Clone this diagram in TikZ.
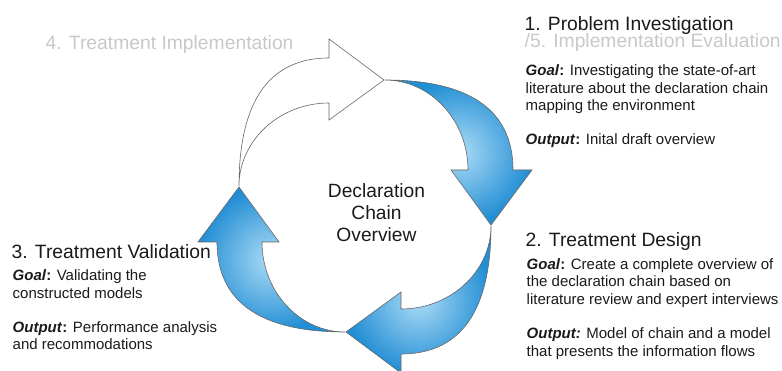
\documentclass[tikz,border=0pt]{standalone}
\usepackage{fontspec}
\setmainfont{Liberation Sans}
\definecolor{arrowdark}{RGB}{34,142,212}
\definecolor{arrowlight}{RGB}{172,220,246}
\definecolor{phasegray}{RGB}{200,200,200}
\definecolor{textdark}{RGB}{26,26,26}
\tikzset{
  bluearrow/.style={draw=black!60, line width=0.6pt, inner color=arrowlight, outer color=arrowdark},
  whitearrow/.style={draw=black!60, line width=0.6pt, fill=white},
  phasetitle/.style={anchor=base west, inner sep=0pt, text=textdark, font=\fontsize{19.3}{22}\selectfont},
  phasebody/.style={anchor=base west, inner sep=0pt, align=left, text=textdark, font=\fontsize{15}{17.3}\selectfont},
}
\begin{document}
\begin{tikzpicture}[x=1pt,y=-1pt]
\useasboundingbox (0,0) rectangle (782,371);
% the four arrows of the cycle
\foreach \r in {0,90,180}
  \shadedraw[bluearrow, shift={(365,206)}, rotate=\r] (-126,-19) -- (-86,36) -- (-103,36) .. controls (-103,86) and (-65,126) .. (-20,126) .. controls (-80,126) and (-148,111) .. (-148,36) -- (-167,36) -- cycle;
\draw[whitearrow, shift={(365,206)}, rotate=-90] (-126,-19) -- (-86,36) -- (-103,36) .. controls (-103,86) and (-65,126) .. (-20,126) .. controls (-80,126) and (-148,111) .. (-148,36) -- (-167,36) -- cycle;
% centre (base is the last line)
\node[anchor=base, inner sep=0pt, align=center, text=textdark, font=\fontsize{19.2}{22.3}\selectfont] (centre) at (376.5,242) {Declaration\\Chain\\Overview};
% phase 1 / 5
\node[phasetitle] (phase1) at (524.5,31) {1. Problem Investigation};
\node[phasetitle, text=phasegray] (phase5) at (524.5,48) {/5. Implementation Evaluation};
\node[phasebody] (goal1) at (525.5,145) {\textbf{\textit{Goal}:} Investigating the state-of-art\\literature about the declaration chain\\mapping the environment\\[17.3pt]\textbf{\textit{Output}:} Inital draft overview};
% phase 2
\node[phasetitle] (phase2) at (525.5,247) {2. Treatment Design};
\node[phasebody] (goal2) at (526.5,356) {\textbf{\textit{Goal}:} Create a complete overview of\\the declaration chain based on\\literature review and expert interviews\\[17.3pt]\textbf{\textit{Output:}} Model of chain and a model\\that presents the information flows};
% phase 3
\node[phasetitle] (phase3) at (11.5,259) {3. Treatment Validation};
\node[phasebody] (goal3) at (12.5,350) {\textbf{\textit{Goal}:} Validating the\\constructed models\\[17.3pt]\textbf{\textit{Output}:} Performance analysis\\and recommodations};
% phase 4
\node[phasetitle, text=phasegray] (phase4) at (45.5,50) {4. Treatment Implementation};
\end{tikzpicture}
\end{document}
